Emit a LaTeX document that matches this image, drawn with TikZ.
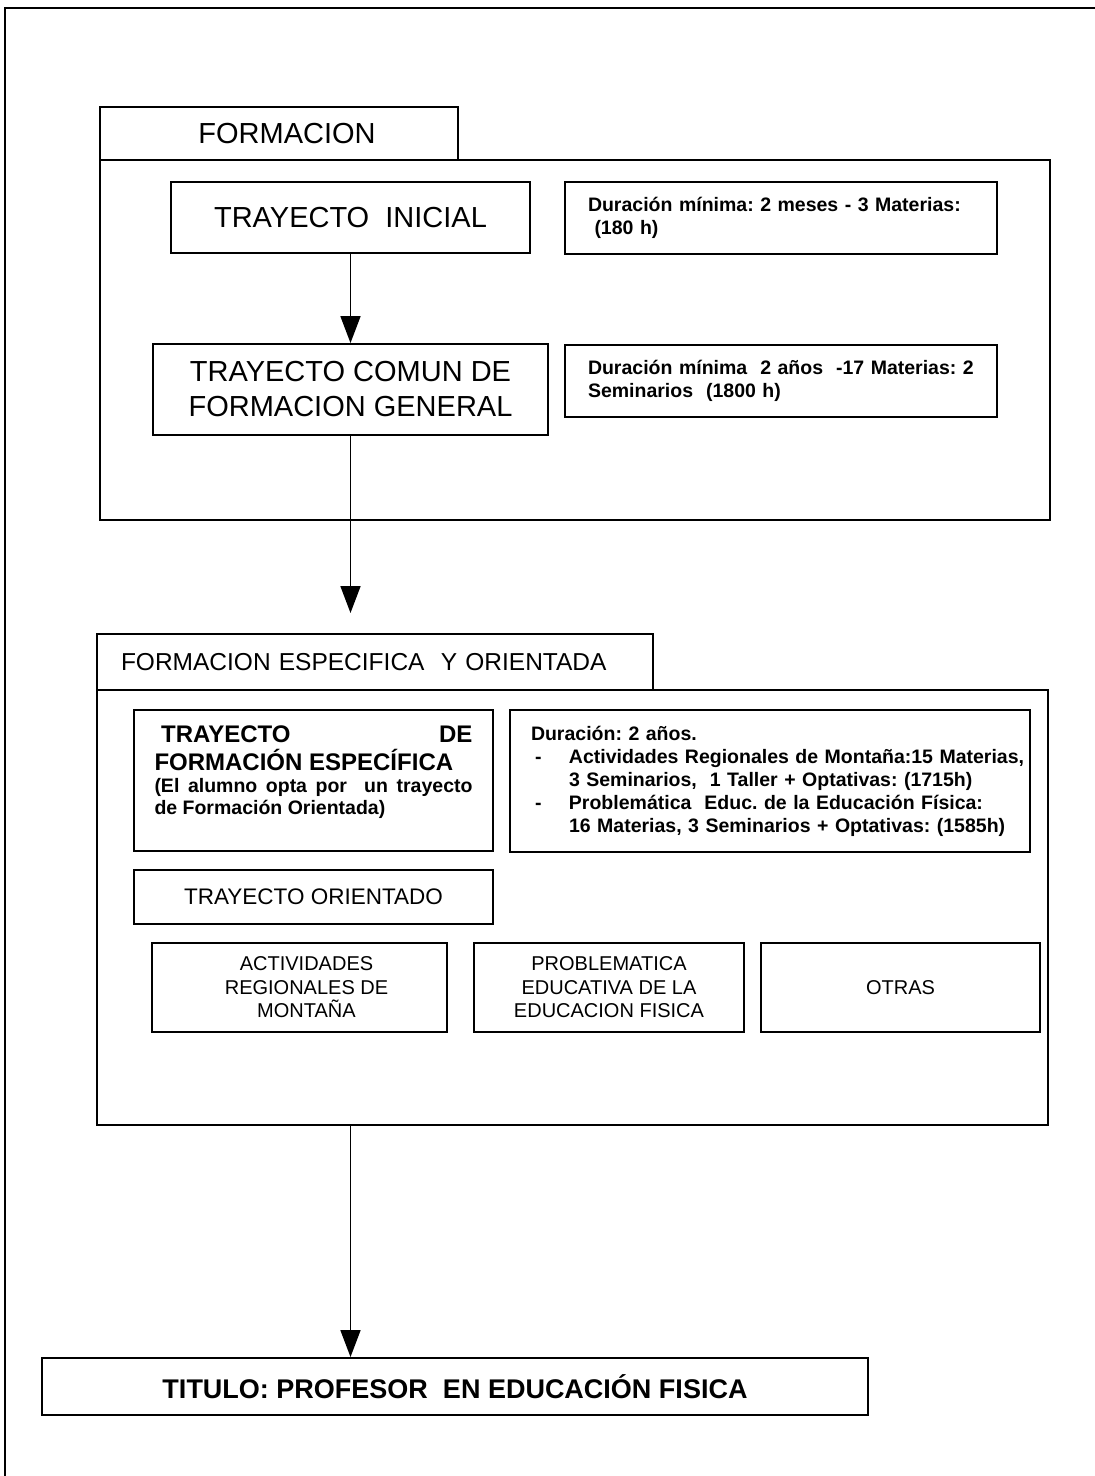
\documentclass[tikz,border=0pt]{standalone}
\usepackage{fontspec}
\setmainfont{Liberation Sans}
\usetikzlibrary{arrows.meta}
\frenchspacing
\begin{document}
\begin{tikzpicture}[x=1pt,y=-1pt,
  box/.style={draw, line width=1.9pt, inner sep=0pt, align=center},
  arr/.style={line width=1.7pt, -{Triangle[width=20pt,length=27pt]}},
  fbig/.style={font=\fontsize{29}{35}\selectfont},
  fmid/.style={font=\fontsize{22.5}{27}\selectfont},
  fhead/.style={font=\fontsize{24.5}{29}\selectfont},
  fsmall/.style={font=\bfseries\fontsize{19.5}{23}\selectfont},
  fopt/.style={font=\fontsize{20}{23.5}\selectfont},
  ftit/.style={font=\bfseries\fontsize{27}{31}\selectfont}]
\useasboundingbox (0,0) rectangle (1095,1476);
% outer frame
\draw[line width=1.5pt] (1095,8) -- (5,8) -- (5,1476);
% ---- FORMACION ----
\node[box, fbig, minimum width=358pt, minimum height=53pt] (tab1) at (279,133.5) {\hspace*{16pt}FORMACION};
\node[box, minimum width=950pt, minimum height=360pt] (main1) at (575,340) {};
\node[box, fbig, minimum width=359pt, minimum height=71pt] (ti) at (350.5,217.5) {TRAYECTO\ \ INICIAL};
\node[box, fsmall, align=left, text width=386pt, minimum width=432pt, minimum height=72pt] (d1) at (781,218)
  {Duración mínima: 2 meses - 3 Materias:\\\ (180 h)};
\node[box, fbig, minimum width=395pt, minimum height=91pt] (tc) at (350.5,389.5) {TRAYECTO COMUN DE\\FORMACION GENERAL};
\node[box, fsmall, align=left, text width=386pt, minimum width=432pt, minimum height=72pt] (d2) at (781,381)
  {Duración mínima\ \ 2 años\ \ -17 Materias: 2\\Seminarios\ \ (1800 h)};
\coordinate (a2end) at (350.5,613);
\draw[arr] (ti.south) -- (tc.north);
\draw[arr] (tc.south) -- (a2end);
% ---- FORMACION ESPECIFICA Y ORIENTADA ----
\node[box, fhead, align=left, text width=508pt, minimum width=556pt, minimum height=56pt] (tab2) at (375,662)
  {FORMACION ESPECIFICA\ \ Y ORIENTADA};
\node[box, minimum width=951pt, minimum height=435pt] (main2) at (572.5,907.5) {};
\node[box, align=justify, text width=318pt, minimum width=359pt, minimum height=141pt] (tfe) at (313.5,780.5)
  {\bfseries\fontsize{24}{27.5}\selectfont \ TRAYECTO\hfill DE\\FORMACIÓN ESPECÍFICA\par
   \fontsize{19.5}{22}\selectfont (El alumno opta por\ \ un trayecto\linebreak de Formación Orientada)\par
   \kern17pt\hrule height 0pt};
\node[box, fsmall, align=left, text width=478pt, minimum width=520pt, minimum height=142pt] (d3) at (770,781)
  {\mbox{Duración: 2 años.}\\
   \mbox{\makebox[38pt][l]{\hspace*{4pt}-}Actividades Regionales de Montaña:15 Materias,}\\
   \mbox{\hspace*{38pt}3 Seminarios,\ \ 1 Taller + Optativas: (1715h)}\\
   \mbox{\makebox[38pt][l]{\hspace*{4pt}-}Problemática\ \ Educ. de la Educación Física:}\\
   \mbox{\hspace*{38pt}16 Materias, 3 Seminarios + Optativas: (1585h)}};
\node[box, fmid, minimum width=359pt, minimum height=54pt] (tor) at (313.5,897) {TRAYECTO ORIENTADO};
\node[box, fopt, minimum width=295pt, minimum height=89pt] (act) at (299.5,987.5) {\hspace*{14pt}ACTIVIDADES\\\hspace*{14pt}REGIONALES DE\\\hspace*{14pt}MONTAÑA};
\node[box, fopt, minimum width=270pt, minimum height=89pt] (prob) at (609,987.5) {PROBLEMATICA\\EDUCATIVA DE LA\\EDUCACION FISICA};
\node[box, fopt, minimum width=279pt, minimum height=89pt] (otras) at (900.5,987.5) {OTRAS};
% ---- TITULO ----
\node[box, ftit, minimum width=826pt, minimum height=57pt] (tit) at (455,1386.5) {TITULO: PROFESOR\ \ EN EDUCACIÓN FISICA};
\draw[arr] (ti.south |- main2.south) -- (ti.south |- tit.north);
\end{tikzpicture}
\end{document}
